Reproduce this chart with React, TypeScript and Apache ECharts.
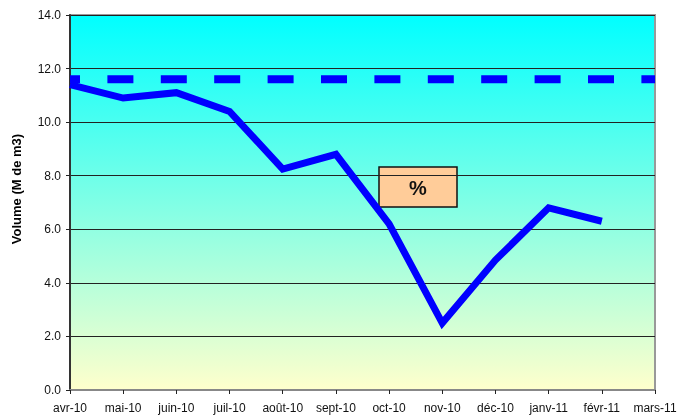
import React, { useEffect, useRef } from "react";
import * as echarts from "echarts";

const months = ["avr-10", "mai-10", "juin-10", "juil-10", "août-10", "sept-10", "oct-10", "nov-10", "déc-10", "janv-11", "févr-11", "mars-11"];
const volume = [11.4, 10.9, 11.1, 10.4, 8.25, 8.8, 6.2, 2.5, 4.85, 6.8, 6.3, null];
const reference = [11.6, 11.6, 11.6, 11.6, 11.6, 11.6, 11.6, 11.6, 11.6, 11.6, 11.6, 11.6];
const yTicks = { min: 0, max: 14, interval: 2 };
const yTitle = "Volume (M de m3)";
const boxLabel = "%";

export default function App() {
  const ref = useRef<HTMLDivElement>(null);
  useEffect(() => {
    if (!ref.current) return;
    const chart = echarts.init(ref.current, null, { renderer: "svg" });
    const font = "'Liberation Sans', Arial, sans-serif";
    chart.setOption({
      animation: false,
      grid: {
        left: 70,
        top: 15,
        right: 32,
        bottom: 29,
        show: true,
        borderColor: "#999",
        borderWidth: 2,
        backgroundColor: new echarts.graphic.LinearGradient(0, 0, 0, 1, [
          { offset: 0, color: "#00FFFF" },
          { offset: 1, color: "#FFFFCC" },
        ]),
      },
      xAxis: {
        type: "category",
        data: months,
        boundaryGap: false,
        axisLine: { lineStyle: { color: "#888", width: 2 } },
        axisTick: { show: true, length: 4, lineStyle: { color: "#222", width: 1 } },
        axisLabel: { color: "#111", fontSize: 12, fontFamily: font, margin: 12, interval: 0 },
        splitLine: { show: false },
      },
      yAxis: {
        type: "value",
        min: yTicks.min,
        max: yTicks.max,
        interval: yTicks.interval,
        axisLine: { show: true, lineStyle: { color: "#333", width: 2 } },
        axisTick: { show: true, length: 4, lineStyle: { color: "#222", width: 1 } },
        axisLabel: { color: "#111", fontSize: 12, fontFamily: font, margin: 9, formatter: (v: number) => v.toFixed(1) },
        splitLine: { show: true, lineStyle: { color: "#222", width: 1 } },
      },
      series: [
        {
          type: "line",
          data: reference,
          symbol: "none",
          silent: true,
          lineStyle: { color: "#0000FF", width: 8, type: [26, 27.4], dashOffset: 16, cap: "butt" },
          z: 3,
        },
        {
          type: "line",
          data: volume,
          symbol: "none",
          connectNulls: false,
          lineStyle: { color: "#0000FF", width: 7, cap: "butt", join: "miter" },
          z: 4,
        },
      ],
      graphic: [
        {
          type: "text",
          x: 16,
          y: 189,
          rotation: Math.PI / 2,
          style: {
            text: yTitle,
            font: `bold 13px ${font}`,
            fill: "#000",
            align: "center",
            verticalAlign: "middle",
          },
        },
        {
          type: "group",
          x: 379,
          y: 167,
          z: 10,
          children: [
            {
              type: "rect",
              shape: { x: 0, y: 0, width: 78, height: 40 },
              style: { fill: "#FFCC99", stroke: "#111", lineWidth: 1.5 },
            },
            {
              type: "text",
              x: 39,
              y: 21,
              style: {
                text: boxLabel,
                font: `bold 20px ${font}`,
                fill: "#111",
                align: "center",
                verticalAlign: "middle",
              },
            },
          ],
        },
      ],
    });
    return () => chart.dispose();
  }, []);
  return <div ref={ref} style={{ position: "fixed", left: 0, top: 0, width: 687, height: 419 }} />;
}
